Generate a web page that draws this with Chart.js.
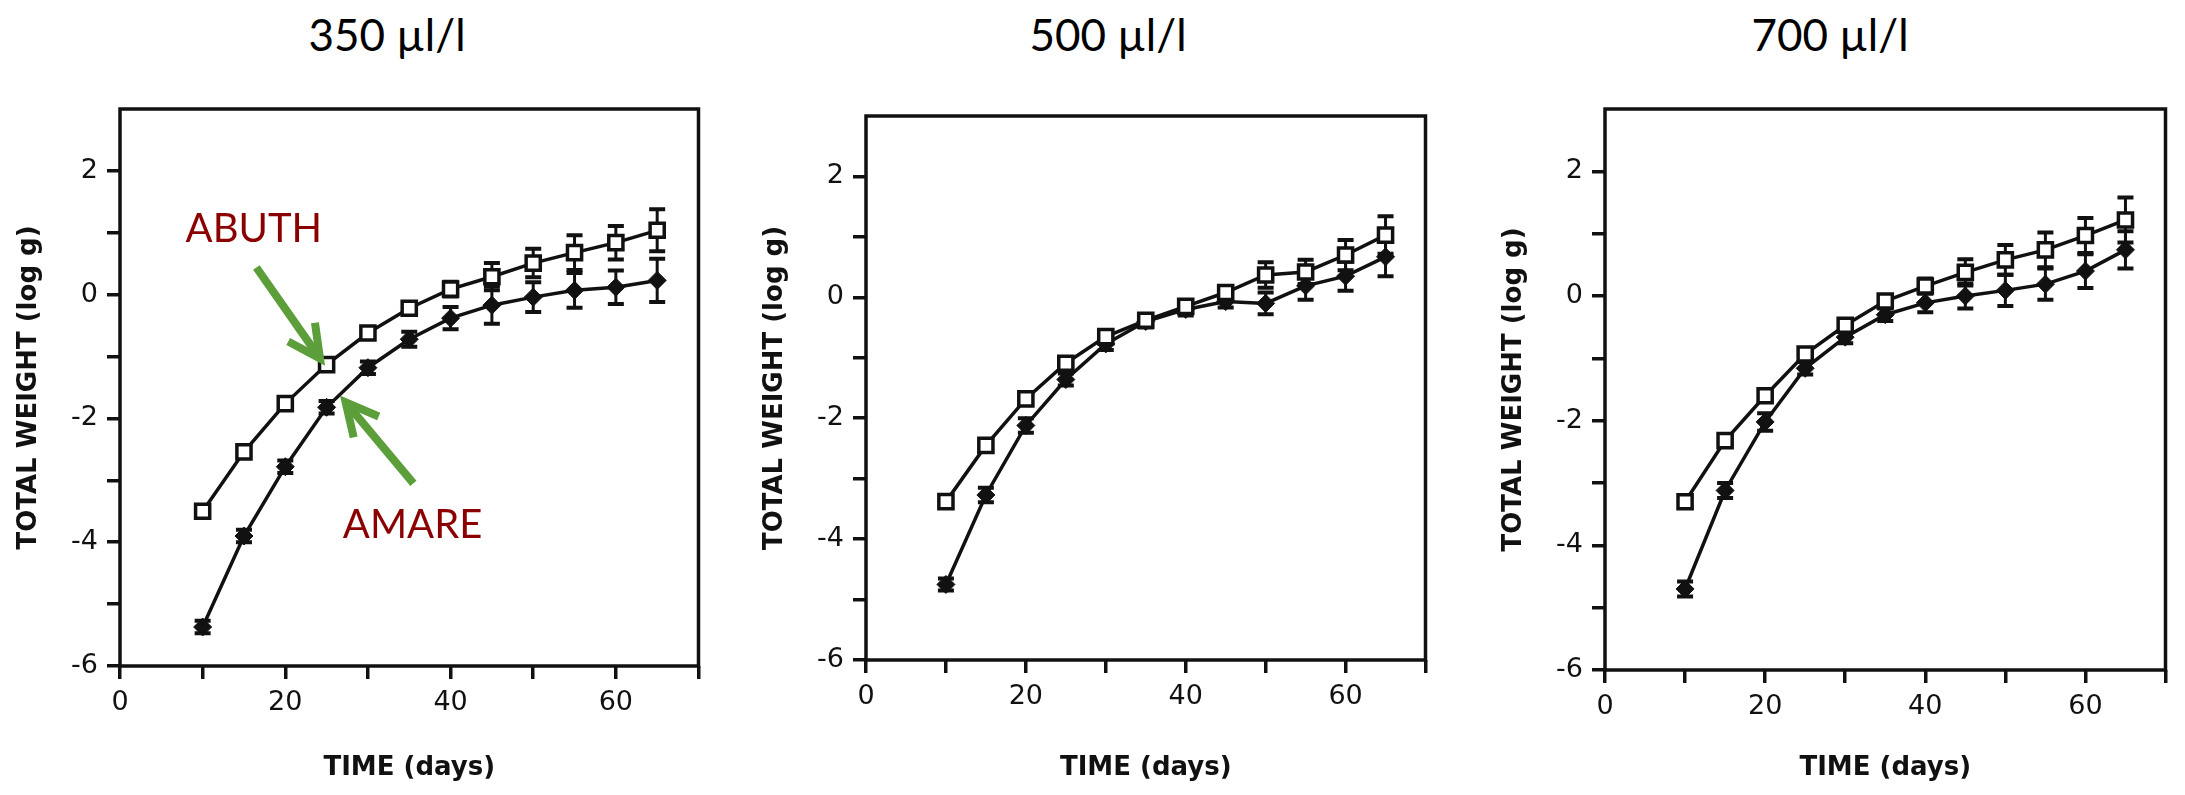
<!DOCTYPE html>
<html>
<head>
<meta charset="utf-8">
<script src="https://cdn.jsdelivr.net/npm/chart.js@4.4.0/dist/chart.umd.min.js"></script>
<style>
  html, body { margin: 0; padding: 0; background: #fff; }
  body { width: 2185px; height: 795px; position: relative; overflow: hidden; }
  .ptitle {
    position: absolute; top: 8px; transform: translateX(-50%);
    font-family: Lato, "Open Sans", sans-serif; font-size: 44px; line-height: 52px;
    color: #000; white-space: nowrap;
  }
</style>
</head>
<body>
<script>
// sampling days, shared by every panel
const days = [10, 15, 20, 25, 30, 35, 40, 45, 50, 55, 60, 65];
const concentrations = ["350 µl/l", "500 µl/l", "700 µl/l"];
const xTickLabels = [0, 20, 40, 60];
const yTickLabels = [-6, -4, -2, 0, 2];

// ABUTH (open squares), log g
const abuth350 = [-3.5, -2.54, -1.76, -1.13, -0.62, -0.22, 0.09, 0.29, 0.51, 0.68, 0.84, 1.04];
const abuth500 = [-3.38, -2.45, -1.68, -1.09, -0.65, -0.38, -0.15, 0.08, 0.37, 0.42, 0.7, 1.03];
const abuth700 = [-3.3, -2.32, -1.6, -0.93, -0.47, -0.08, 0.16, 0.38, 0.58, 0.74, 0.97, 1.22];
const abuthErr350 = [0.08, 0.08, 0.08, 0.08, 0.08, 0.1, 0.12, 0.22, 0.23, 0.28, 0.27, 0.34];
const abuthErr500 = [0.08, 0.08, 0.1, 0.08, 0.08, 0.08, 0.1, 0.1, 0.21, 0.2, 0.25, 0.31];
const abuthErr700 = [0.08, 0.08, 0.1, 0.08, 0.08, 0.08, 0.12, 0.21, 0.24, 0.28, 0.28, 0.36];

// AMARE (filled symbols), log g
const amare350 = [-5.37, -3.9, -2.78, -1.82, -1.18, -0.72, -0.38, -0.17, -0.04, 0.07, 0.12, 0.23];
const amare500 = [-4.75, -3.27, -2.12, -1.36, -0.77, -0.4, -0.2, -0.07, -0.1, 0.19, 0.35, 0.67];
const amare700 = [-4.7, -3.12, -2.02, -1.16, -0.66, -0.3, -0.11, 0.0, 0.09, 0.19, 0.4, 0.74];
const amareErr350 = [0.1, 0.1, 0.1, 0.1, 0.1, 0.12, 0.18, 0.3, 0.24, 0.28, 0.27, 0.35];
const amareErr500 = [0.1, 0.12, 0.12, 0.1, 0.1, 0.1, 0.1, 0.1, 0.18, 0.23, 0.24, 0.32];
const amareErr700 = [0.12, 0.12, 0.14, 0.1, 0.1, 0.1, 0.15, 0.2, 0.25, 0.25, 0.27, 0.3];

const abuthSeries = [abuth350, abuth500, abuth700];
const abuthErrors = [abuthErr350, abuthErr500, abuthErr700];
const amareSeries = [amare350, amare500, amare700];
const amareErrors = [amareErr350, amareErr500, amareErr700];

// callouts on the first panel, in data units
const callouts = [
  { text: "ABUTH", x: 16.2, y: 1.06, tail: [16.5, 0.44], tip: [24.2, -1.03] },
  { text: "AMARE", x: 35.4, y: -3.73, tail: [35.5, -3.05], tip: [27.3, -1.74] }
];

// where each panel sits on the page
const panels = [
  { left: 0, width: 712, top: 109, axisHeight: 129, titleX: 387 },
  { left: 746, width: 693, top: 116, axisHeight: 135, titleX: 1108 },
  { left: 1485, width: 694, top: 109, axisHeight: 125, titleX: 1830 }
];

const INK = "#111";

const frame = {
  id: "frame",
  afterDraw(chart) {
    const { ctx, chartArea: a } = chart;
    ctx.save();
    ctx.strokeStyle = INK;
    ctx.lineWidth = 3.5;
    ctx.strokeRect(a.left, a.top, a.right - a.left, a.bottom - a.top);
    ctx.restore();
  }
};

const errorBars = {
  id: "errorBars",
  beforeDatasetsDraw(chart) {
    const ctx = chart.ctx;
    const y = chart.scales.y;
    ctx.save();
    ctx.strokeStyle = INK;
    chart.data.datasets.forEach((ds, di) => {
      const meta = chart.getDatasetMeta(di);
      meta.data.forEach((pt, k) => {
        const v = ds.data[k].y;
        const e = ds.errors[k];
        const top = y.getPixelForValue(v + e);
        const bot = y.getPixelForValue(v - e);
        ctx.lineWidth = 3;
        ctx.beginPath();
        ctx.moveTo(pt.x, top);
        ctx.lineTo(pt.x, bot);
        ctx.stroke();
        ctx.lineWidth = 4;
        ctx.beginPath();
        ctx.moveTo(pt.x - 8, top);
        ctx.lineTo(pt.x + 8, top);
        ctx.moveTo(pt.x - 8, bot);
        ctx.lineTo(pt.x + 8, bot);
        ctx.stroke();
      });
    });
    ctx.restore();
  }
};

const calloutPlugin = {
  id: "callouts",
  afterDraw(chart) {
    const { ctx, scales: { x, y } } = chart;
    ctx.save();
    callouts.forEach(c => {
      const tx = x.getPixelForValue(c.tail[0]), ty = y.getPixelForValue(c.tail[1]);
      const hx = x.getPixelForValue(c.tip[0]), hy = y.getPixelForValue(c.tip[1]);
      const ang = Math.atan2(ty - hy, tx - hx);
      const wing = 36, spread = 0.47;
      ctx.strokeStyle = "#5b9e3a";
      ctx.lineWidth = 8;
      ctx.lineCap = "butt";
      ctx.beginPath();
      ctx.moveTo(tx, ty);
      ctx.lineTo(hx + Math.cos(ang) * 4, hy + Math.sin(ang) * 4);
      ctx.stroke();
      ctx.lineJoin = "miter";
      ctx.beginPath();
      ctx.moveTo(hx + Math.cos(ang + spread) * wing, hy + Math.sin(ang + spread) * wing);
      ctx.lineTo(hx, hy);
      ctx.lineTo(hx + Math.cos(ang - spread) * wing, hy + Math.sin(ang - spread) * wing);
      ctx.stroke();

      ctx.fillStyle = "#8b0000";
      ctx.font = "40px Lato, 'Open Sans', sans-serif";
      ctx.textAlign = "center";
      ctx.textBaseline = "middle";
      ctx.fillText(c.text, x.getPixelForValue(c.x), y.getPixelForValue(c.y));
    });
    ctx.restore();
  }
};

panels.forEach((p, i) => {
  const title = document.createElement("div");
  title.className = "ptitle";
  title.style.left = p.titleX + "px";
  title.textContent = concentrations[i];
  document.body.appendChild(title);

  const canvas = document.createElement("canvas");
  canvas.width = p.width;
  canvas.height = 795;
  canvas.style.cssText = "position:absolute;top:0;left:" + p.left + "px;width:" + p.width + "px;height:795px";
  document.body.appendChild(canvas);

  new Chart(canvas, {
    type: "line",
    data: {
      datasets: [
        {
          label: "ABUTH",
          data: days.map((d, k) => ({ x: d, y: abuthSeries[i][k] })),
          errors: abuthErrors[i],
          borderColor: INK,
          borderWidth: 3.5,
          pointStyle: "rect",
          pointRadius: 10,
          pointBorderWidth: 3.5,
          pointBackgroundColor: "#fff",
          pointBorderColor: INK,
        },
        {
          label: "AMARE",
          data: days.map((d, k) => ({ x: d, y: amareSeries[i][k] })),
          errors: amareErrors[i],
          borderColor: INK,
          borderWidth: 3.5,
          pointStyle: "rectRot",
          pointRadius: 9,
          pointBorderWidth: 1,
          pointBackgroundColor: INK,
          pointBorderColor: INK,
        },
      ],
    },
    options: {
      responsive: false,
      animation: false,
      layout: { padding: { left: 0, top: p.top, right: 11, bottom: 0 } },
      plugins: {
        legend: { display: false },
        tooltip: { enabled: false },
      },
      scales: {
        x: {
          type: "linear",
          min: 0,
          max: 70,
          afterFit: s => { s.height = p.axisHeight; },
          ticks: {
            stepSize: 10,
            autoSkip: false,
            maxRotation: 0,
            padding: 8,
            color: INK,
            font: { family: "DejaVu Sans", size: 27 },
            callback: v => (xTickLabels.includes(v) ? String(v) : ""),
          },
          grid: { drawOnChartArea: false, drawTicks: true, tickLength: 13, lineWidth: 3.5, color: INK },
          border: { display: false },
          title: {
            display: true,
            text: "TIME (days)",
            color: INK,
            font: { family: "DejaVu Sans", size: 26, weight: "bold" },
            padding: { top: 0, bottom: 11 },
          },
        },
        y: {
          min: -6,
          max: 3,
          afterFit: s => { s.width = 120; },
          ticks: {
            stepSize: 1,
            autoSkip: false,
            padding: 9,
            color: INK,
            font: { family: "DejaVu Sans", size: 27 },
            callback: v => (yTickLabels.includes(v) ? String(v) : ""),
          },
          grid: {
            drawOnChartArea: false,
            drawTicks: true,
            tickLength: 13,
            lineWidth: 3.5,
            color: c => (c.tick && c.tick.value === 3 ? "rgba(0,0,0,0)" : INK),
          },
          border: { display: false },
          title: {
            display: true,
            text: "TOTAL WEIGHT (log g)",
            color: INK,
            font: { family: "DejaVu Sans", size: 26, weight: "bold" },
            padding: { top: 14, bottom: 0 },
          },
        },
      },
    },
    plugins: i === 0 ? [frame, errorBars, calloutPlugin] : [frame, errorBars],
  });
});
</script>
</body>
</html>
